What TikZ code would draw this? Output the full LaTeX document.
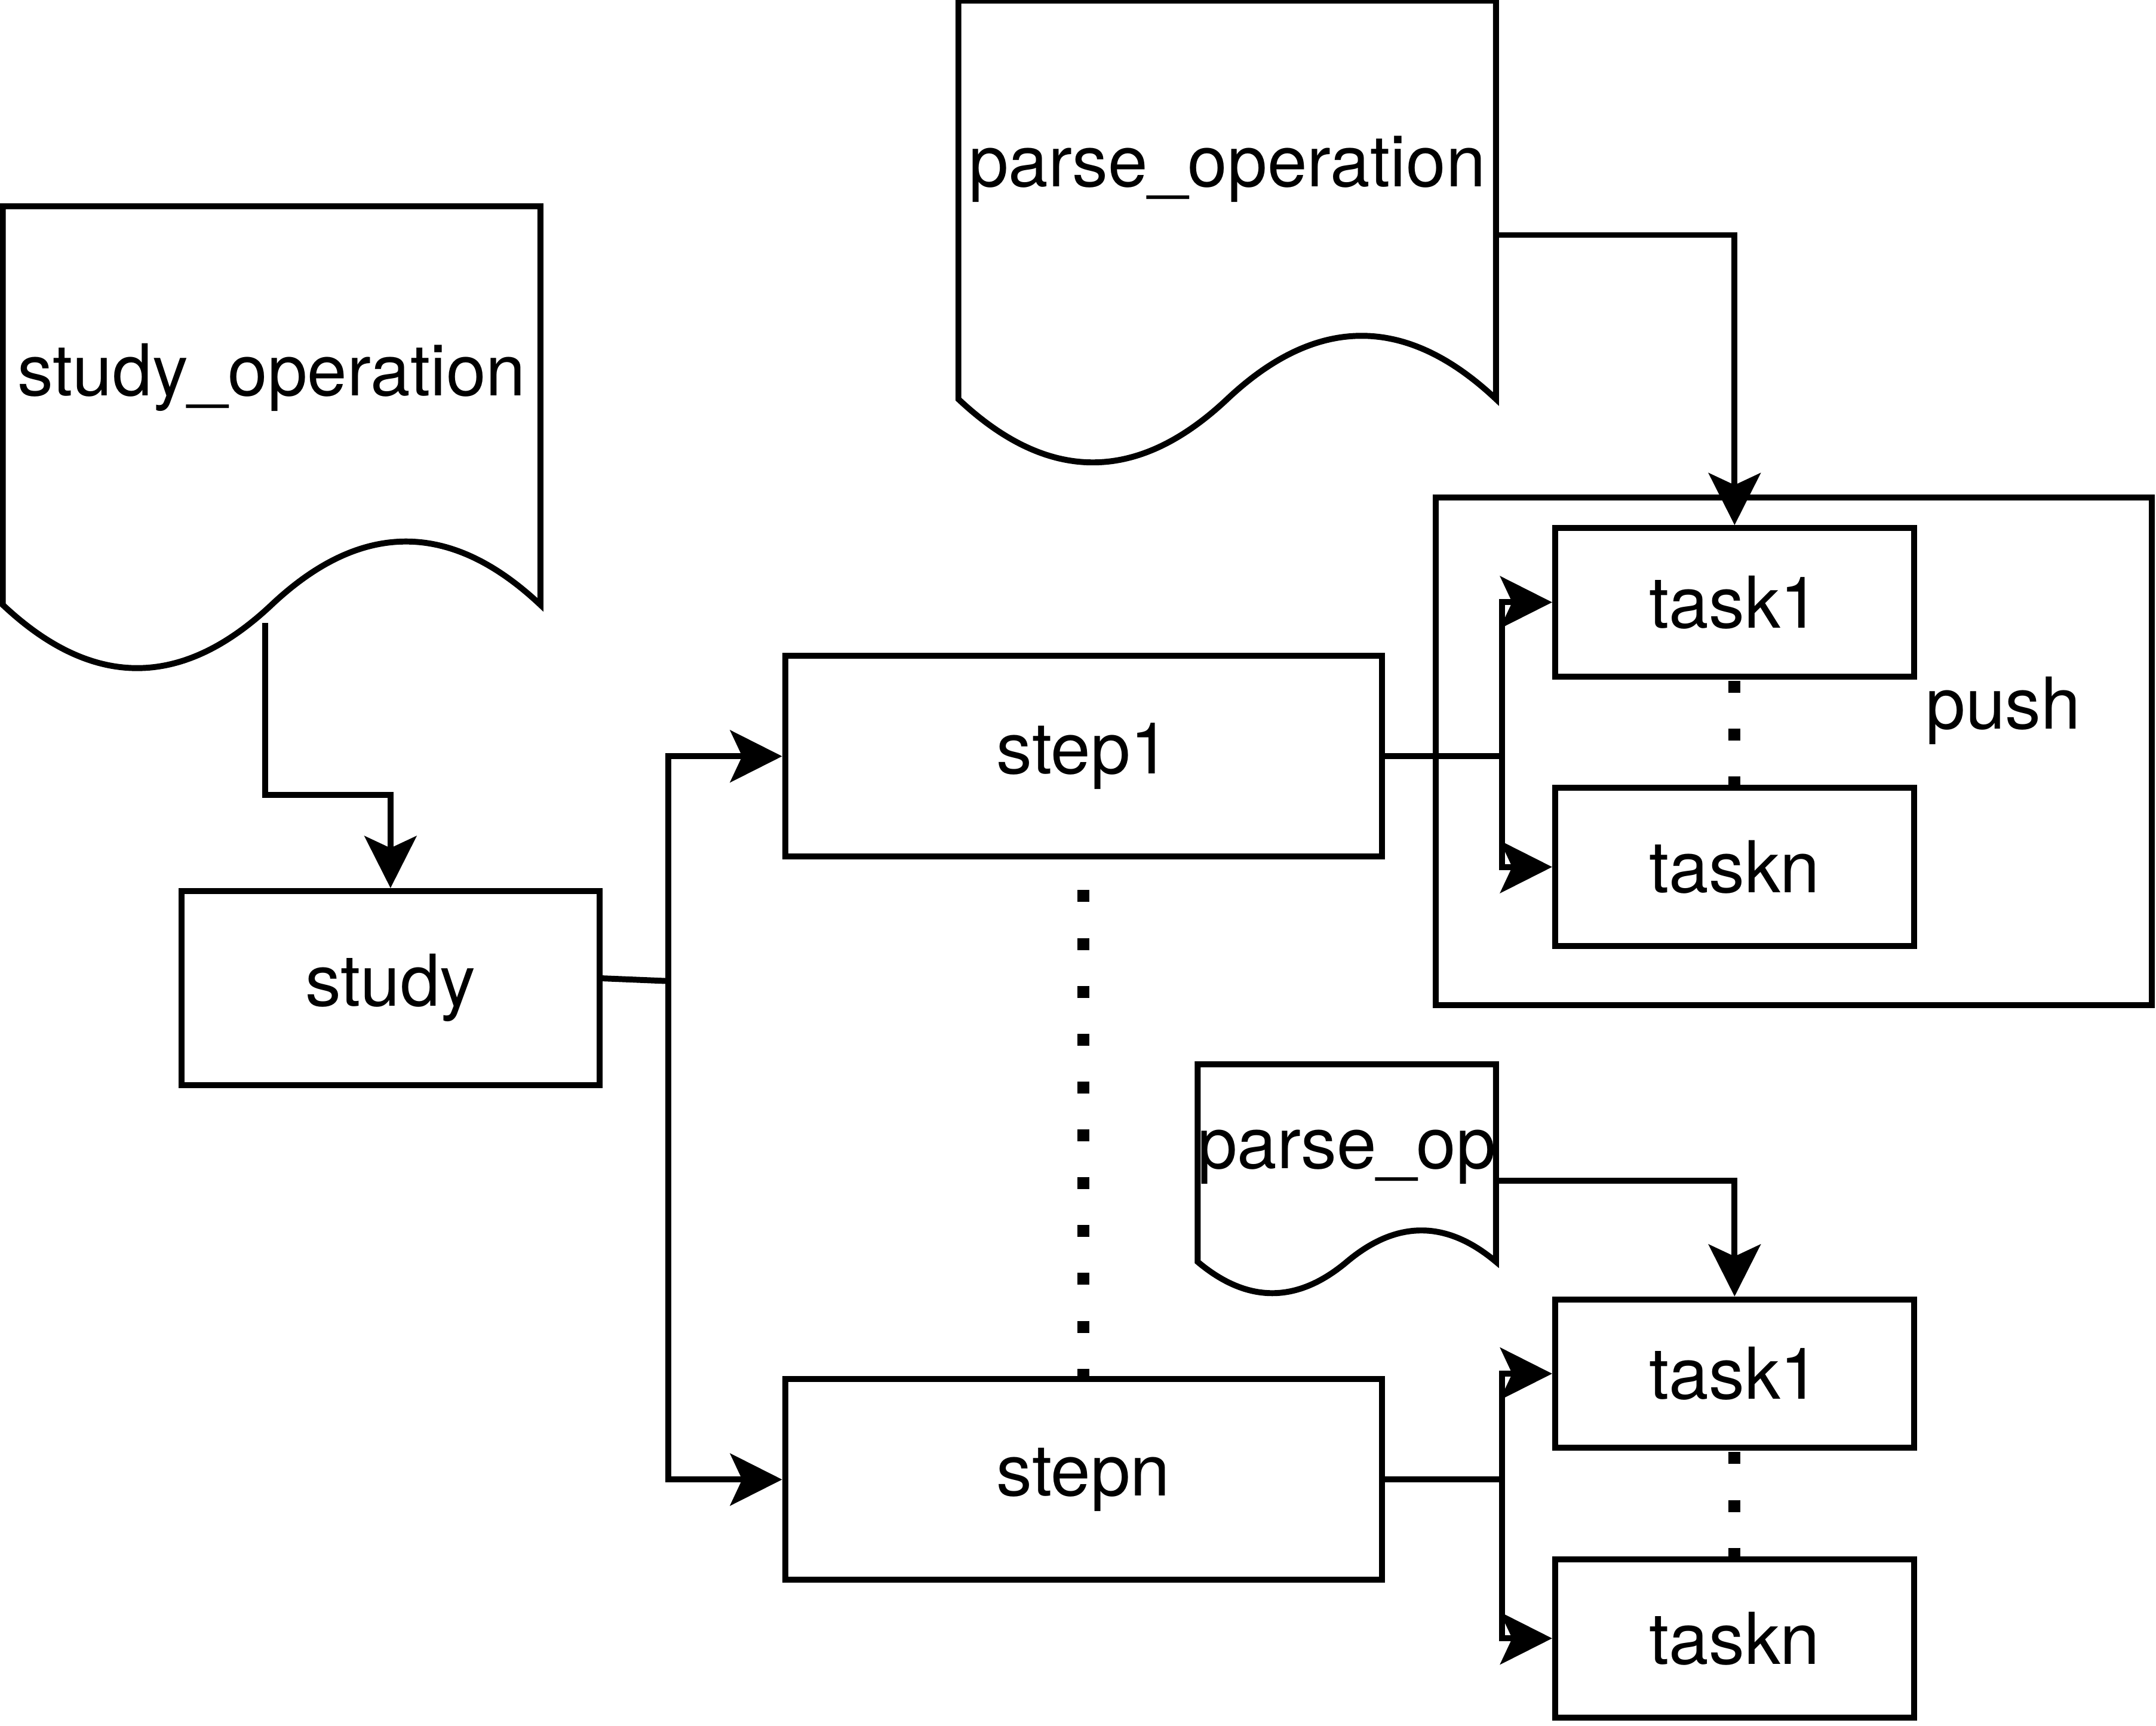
\documentclass[tikz,border=0pt]{standalone}
\usepackage{fontspec}
\setmainfont{TeX Gyre Heros}
\usetikzlibrary{arrows.meta,calc}

\tikzset{
  stepbox/.style={draw, minimum width=4.34cm, minimum height=1.46cm},
  taskbox/.style={draw, minimum width=2.61cm, minimum height=#1},
  doc/.style 2 args={minimum width=#1, minimum height=#2, inner sep=0pt, outer sep=0pt},
  arr/.style={-{Stealth[length=3.78mm, width=3.78mm, inset=0.87mm]}},
  dots/.style={line width=0.87mm, dash pattern=on 0.87mm off 2.61mm},
}

% page with a wavy bottom edge, drawn round a doc node
\newcommand\docwave[1]{%
  \draw let \p1=(#1.north west), \p2=(#1.south east),
    \n1={0.3*((\y1)-(\y2))}, \n2={((\x2)-(\x1))/6}, \n3={((\x1)+(\x2))/2} in
    (\x1,\y1) -- (\x2,\y1) -- (\x2,\y2+0.5*\n1)
    .. controls (\x2-\n2,\y2+1.1*\n1) and (\n3+\n2,\y2+1.1*\n1) .. (\n3,\y2+0.5*\n1)
    .. controls (\n3-\n2,\y2-0.1*\n1) and (\x1+\n2,\y2-0.1*\n1) .. (\x1,\y2+0.5*\n1)
    -- cycle;}

\begin{document}
\begin{tikzpicture}[line width=1.23pt, font=\fontsize{14.8}{17.8}\selectfont]
  \useasboundingbox (0,0) rectangle (15.68,-12.55);

  % documents
  \node [doc={3.91cm}{3.41cm}, label={[yshift=4.6mm]center:study\_operation}] (sop) at (1.975,-3.205) {};
  \node [doc={3.91cm}{3.41cm}, label={[yshift=4.8mm]center:parse\_operation}] (pop) at (8.925,-1.709) {};
  \node [doc={2.17cm}{1.69cm}, label={[yshift=1.7mm]center:parse\_op}] (pmini) at (9.795,-8.585) {};
  \docwave{sop}
  \docwave{pop}
  \docwave{pmini}

  % boxes
  \node [draw, minimum width=3.04cm, minimum height=1.41cm] (study) at (2.84,-7.185) {study};
  \node [stepbox] (step1) at (7.88,-5.50) {step1};
  \node [stepbox] (stepn) at (7.88,-10.76) {stepn};
  \node [draw, minimum width=5.21cm, minimum height=3.69cm] (push) at (13.045,-5.465) {};
  \node [anchor=base] (pushlbl) at (14.57,-5.30) {push};
  \node [taskbox=1.08cm] (t1a) at (12.615,-4.38) {task1};
  \node [taskbox=1.15cm] (tna) at (12.615,-6.305) {taskn};
  \node [taskbox=1.08cm] (t1b) at (12.615,-9.99) {task1};
  \node [taskbox=1.15cm] (tnb) at (12.615,-11.915) {taskn};

  % connectors
  \draw [arr] ([shift={(-0.045,0.38)}]sop.south) -- ++(0,-1.25) -| (study.north);
  \draw ([yshift=0.07cm]study.east) -- ++(0.48,-0.02) coordinate (fork);
  \draw [arr] (fork) |- (step1.west);
  \draw [arr] (fork) |- (stepn.west);
  \draw (step1.east) -- ++(0.85,0) coordinate (j1);
  \draw [arr] (j1) |- (t1a.west);
  \draw [arr] (j1) |- (tna.west);
  \draw (stepn.east) -- ++(0.85,0) coordinate (jn);
  \draw [arr] (jn) |- (t1b.west);
  \draw [arr] (jn) |- (tnb.west);
  \draw [arr] (pop.east) -| (t1a.north);
  \draw [arr] (pmini.east) -| (t1b.north);

  % dotted gaps
  \draw [dots, dash phase=1.26mm] (step1.south) -- (stepn.north);
  \draw [dots, dash phase=3.39mm] (t1a.south) -- (tna.north);
  \draw [dots, dash phase=3.39mm] (t1b.south) -- (tnb.north);
\end{tikzpicture}
\end{document}
